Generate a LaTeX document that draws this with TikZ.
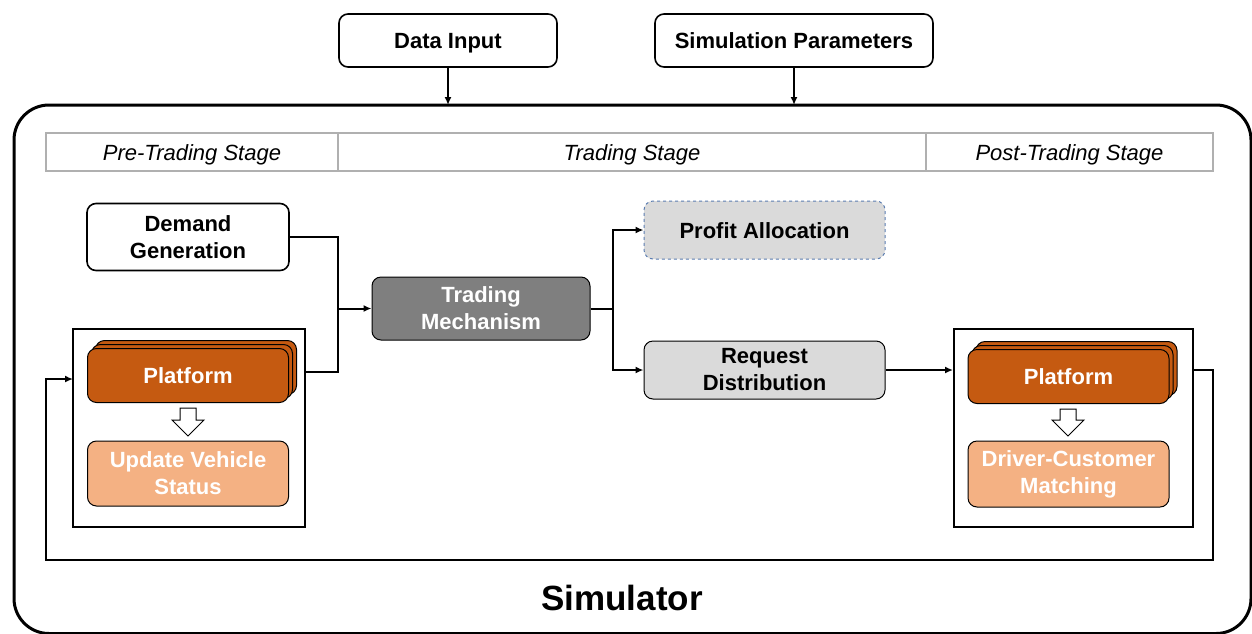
\documentclass[tikz,border=0pt]{standalone}
\usepackage{fontspec}
\setmainfont{Liberation Sans}
\usetikzlibrary{arrows.meta,calc}
\definecolor{orgD}{HTML}{C55A11}
\definecolor{orgL}{HTML}{F4B183}
\definecolor{grayD}{HTML}{7F7F7F}
\definecolor{grayL}{HTML}{DADADA}
\definecolor{hdr}{HTML}{B0B0B0}
\definecolor{dashb}{HTML}{5B7DB1}
\tikzset{
  box/.style={draw, line width=1.6pt, rounded corners=9pt, inner sep=0pt, align=center,
    font=\fontsize{22}{27}\selectfont\bfseries},
  oneline/.style={text height=16pt, text depth=0pt},
  platbox/.style={draw, line width=1pt, fill=orgD, rounded corners=9pt, inner sep=0pt, align=center,
    text=white, font=\fontsize{22}{27}\selectfont\bfseries, minimum width=201pt, minimum height=54pt},
  subbox/.style={draw, line width=1pt, fill=orgL, rounded corners=9pt, inner sep=0pt, align=center,
    text=white, font=\fontsize{22}{27}\selectfont\bfseries, minimum width=201pt},
  container/.style={draw, line width=2pt, inner sep=0pt, minimum height=198pt},
  stagebox/.style={draw=hdr, line width=2pt, inner sep=0pt, minimum height=38pt,
    text height=16pt, text depth=0pt, font=\fontsize{22}{27}\selectfont\itshape},
  conn/.style={line width=2pt},
  arr/.style={line width=2pt, -{Latex[length=8pt,width=7pt]}},
  hollow/.style={draw, line width=1pt, fill=white}
}
\begin{document}
\begin{tikzpicture}[x=1pt,y=-1pt]
\useasboundingbox (0,0) rectangle (1252,633);
% outer simulator box
\draw[line width=3pt, rounded corners=35pt] (14,105) rectangle (1251,633.5);
\node[font=\fontsize{35}{40}\selectfont\bfseries] (simlabel) at (622,598) {Simulator};
% top inputs
\node[box, oneline, minimum width=218pt, minimum height=53pt] (data) at (448,40.5) {Data Input};
\node[box, oneline, minimum width=278pt, minimum height=53pt] (simp) at (794,40.5) {Simulation Parameters};
\coordinate (dIn) at (448,105);
\coordinate (sIn) at (794,105);
\draw[arr] (data.south) -- (dIn);
\draw[arr] (simp.south) -- (sIn);
% stage header
\node[stagebox, minimum width=292pt] (pre) at (192,152) {Pre-Trading Stage};
\node[stagebox, minimum width=588pt] (trd) at (632,152) {Trading Stage};
\node[stagebox, minimum width=287pt] (post) at (1069.5,152) {Post-Trading Stage};
% demand
\node[box, minimum width=202pt, minimum height=67pt] (demand) at (188,237) {Demand\\Generation};
% left container
\node[container, minimum width=232pt] (leftc) at (189,428) {};
\node[platbox] (platLb) at (196,367.5) {};
\node[platbox] (platLm) at (192,371.5) {};
\node[platbox, oneline] (platL) at (188,375.5) {Platform};
\draw[hollow] (180,408) -- (196,408) -- (196,420) -- (204,420) -- (188,436) -- (172,420) -- (180,420) -- cycle;
\node[subbox, minimum height=65pt] (updL) at (188,473.5) {Update Vehicle\\Status};
% trading
\node[box, draw=black, line width=1pt, fill=grayD, text=white, minimum width=218pt, minimum height=63pt] (trading) at (481,308.5) {Trading\\Mechanism};
% profit and request
\node[box, oneline, draw=dashb, dashed, line width=1pt, fill=grayL, minimum width=241pt, minimum height=58pt] (profit) at (764.5,230) {Profit Allocation};
\node[box, line width=1pt, fill=grayL, minimum width=241pt, minimum height=58pt] (request) at (764.5,370) {Request\\Distribution};
% right container
\node[container, minimum width=239pt] (rightc) at (1073.5,428) {};
\node[platbox] (platRb) at (1076.5,368.5) {};
\node[platbox] (platRm) at (1072.5,372.5) {};
\node[platbox, oneline] (platR) at (1068.5,376.5) {Platform};
\draw[hollow] (1060,409) -- (1076,409) -- (1076,420) -- (1084,420) -- (1068,436) -- (1052,420) -- (1060,420) -- cycle;
\node[subbox, minimum height=66pt] (matchR) at (1068.5,474) {Driver-Customer\\Matching};
% connectors
\coordinate (j1) at (338,308.5);
\coordinate (lOut) at (305,372);
\draw[conn] (demand.east) -| (j1);
\draw[conn] (lOut) -| (j1);
\draw[arr] (j1) -- (trading.west);
\coordinate (j2) at (613,308.5);
\draw[conn] (trading.east) -- (j2);
\draw[arr] (j2) |- (profit.west);
\draw[arr] (j2) |- (request.west);
\draw[arr] (request.east) -- (request.east -| rightc.west);
\coordinate (rOut) at (1193,370);
\coordinate (fb1) at (1213,560);
\coordinate (fb2) at (46,560);
\coordinate (lIn) at (73,379);
\draw[arr] (rOut) -| (fb1) -- (fb2) |- (lIn);
\end{tikzpicture}
\end{document}
